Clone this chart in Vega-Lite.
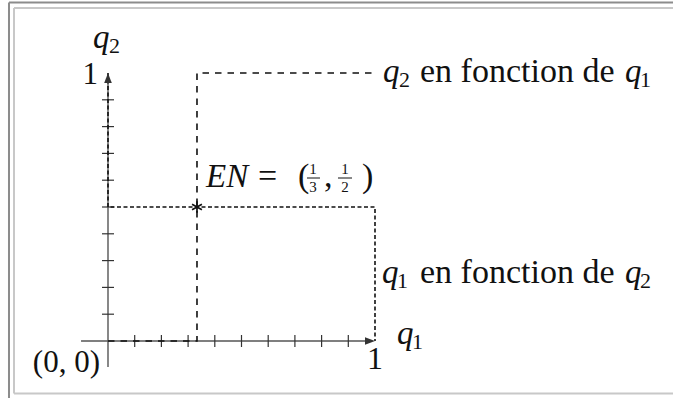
{
  "$schema": "https://vega.github.io/schema/vega-lite/v6.json",
  "width": 673,
  "height": 398,
  "autosize": {"type": "none"},
  "padding": 0,
  "background": "white",
  "config": {"view": {"stroke": null}},
  "datasets": {
    "frame": [
      {"k": "outer", "x": -0.3708, "x2": -0.3708, "y": 1.263, "y2": -0.3},
      {"k": "outer", "x": -0.3708, "x2": 2.3, "y": 1.263, "y2": 1.263},
      {"k": "inner", "x": -0.352, "x2": -0.352, "y": 1.2425, "y2": -0.1959},
      {"k": "inner", "x": -0.352, "x2": 2.3, "y": 1.2425, "y2": 1.2425},
      {"k": "inner", "x": -0.352, "x2": 2.3, "y": -0.1959, "y2": -0.1959}
    ],
    "axes": [
      {"x": -0.101, "x2": 0.97, "y": 0, "y2": 0},
      {"x": 0, "x2": 0, "y": -0.097, "y2": 0.97}
    ],
    "ticks": [
      {"x": 0.1, "x2": 0.1, "y": -0.0224, "y2": 0.0224},
      {"x": 0.2, "x2": 0.2, "y": -0.0224, "y2": 0.0224},
      {"x": 0.3, "x2": 0.3, "y": -0.0224, "y2": 0.0224},
      {"x": 0.4, "x2": 0.4, "y": -0.0224, "y2": 0.0224},
      {"x": 0.5, "x2": 0.5, "y": -0.0224, "y2": 0.0224},
      {"x": 0.6, "x2": 0.6, "y": -0.0224, "y2": 0.0224},
      {"x": 0.7, "x2": 0.7, "y": -0.0224, "y2": 0.0224},
      {"x": 0.8, "x2": 0.8, "y": -0.0224, "y2": 0.0224},
      {"x": 0.9, "x2": 0.9, "y": -0.0224, "y2": 0.0224},
      {"x": -0.0225, "x2": 0.0225, "y": 0.1, "y2": 0.1},
      {"x": -0.0225, "x2": 0.0225, "y": 0.2, "y2": 0.2},
      {"x": -0.0225, "x2": 0.0225, "y": 0.3, "y2": 0.3},
      {"x": -0.0225, "x2": 0.0225, "y": 0.4, "y2": 0.4},
      {"x": -0.0225, "x2": 0.0225, "y": 0.5, "y2": 0.5},
      {"x": -0.0225, "x2": 0.0225, "y": 0.6, "y2": 0.6},
      {"x": -0.0225, "x2": 0.0225, "y": 0.7, "y2": 0.7},
      {"x": -0.0225, "x2": 0.0225, "y": 0.8, "y2": 0.8},
      {"x": -0.0225, "x2": 0.0225, "y": 0.9, "y2": 0.9}
    ],
    "lines": [
      {"s": "q2 en fonction de q1", "o": 0, "x": 0, "y": 0},
      {"s": "q2 en fonction de q1", "o": 1, "x": 0.3333, "y": 0},
      {"s": "q2 en fonction de q1", "o": 2, "x": 0.3333, "y": 1},
      {"s": "q2 en fonction de q1", "o": 3, "x": 1, "y": 1},
      {"s": "q1 en fonction de q2", "o": 0, "x": 0, "y": 1},
      {"s": "q1 en fonction de q2", "o": 1, "x": 0, "y": 0.5},
      {"s": "q1 en fonction de q2", "o": 2, "x": 1, "y": 0.5},
      {"s": "q1 en fonction de q2", "o": 3, "x": 1, "y": 0}
    ],
    "arrows": [
      {"d": "right", "x": 1, "y": 0},
      {"d": "up", "x": 0, "y": 1}
    ],
    "ne": [
      {"x": 0.3333, "y": 0.5}
    ],
    "bars": [
      {"x": 0.7453, "x2": 0.794, "y": 0.6082, "y2": 0.6082},
      {"x": 0.8614, "x2": 0.9139, "y": 0.6082, "y2": 0.6082}
    ],
    "labels": [
      {"r": "it", "x": 1.03, "y": 0.9664, "t": "q"},
      {"r": "it", "x": 1.9363, "y": 0.9664, "t": "q"},
      {"r": "it", "x": 1.0262, "y": 0.2164, "t": "q"},
      {"r": "it", "x": 1.9363, "y": 0.2164, "t": "q"},
      {"r": "it", "x": 1.0824, "y": -0.0112, "t": "q"},
      {"r": "it", "x": -0.0562, "y": 1.0933, "t": "q"},
      {"r": "it", "x": 0.367, "y": 0.5746, "t": "EN"},
      {"r": "rm", "x": 1.1685, "y": 0.9664, "t": "en fonction de"},
      {"r": "rm", "x": 1.1685, "y": 0.2164, "t": "en fonction de"},
      {"r": "rm", "x": 0.5618, "y": 0.5746, "t": "="},
      {"r": "rm", "x": 0.7116, "y": 0.5746, "t": "("},
      {"r": "rm", "x": 0.809, "y": 0.5746, "t": ","},
      {"r": "rm", "x": 0.9513, "y": 0.5746, "t": ")"},
      {"r": "rmr", "x": -0.0375, "y": 0.959, "t": "1"},
      {"r": "rmr", "x": -0.03, "y": -0.1157, "t": "(0, 0)"},
      {"r": "rmc", "x": 1.0, "y": -0.1045, "t": "1"},
      {"r": "sub", "x": 1.0899, "y": 0.9478, "t": "2"},
      {"r": "sub", "x": 1.9925, "y": 0.9478, "t": "1"},
      {"r": "sub", "x": 1.0824, "y": 0.1978, "t": "1"},
      {"r": "sub", "x": 1.9925, "y": 0.1978, "t": "2"},
      {"r": "sub", "x": 1.1386, "y": -0.0299, "t": "1"},
      {"r": "sub", "x": 0.0037, "y": 1.0746, "t": "2"},
      {"r": "frac", "x": 0.7678, "y": 0.6231, "t": "1"},
      {"r": "frac", "x": 0.7678, "y": 0.556, "t": "3"},
      {"r": "frac", "x": 0.8876, "y": 0.6231, "t": "1"},
      {"r": "frac", "x": 0.8876, "y": 0.556, "t": "2"}
    ]
  },
  "encoding": {
    "x": {"field": "x", "type": "quantitative", "scale": {"domain": [-0.40449, 2.1161], "nice": false, "zero": false}, "axis": null},
    "y": {"field": "y", "type": "quantitative", "scale": {"domain": [-0.21269, 1.27239], "nice": false, "zero": false}, "axis": null}
  },
  "layer": [
    {
      "data": {"name": "frame"},
      "mark": {"type": "rule", "strokeWidth": 2},
      "encoding": {
        "x2": {"field": "x2"},
        "y2": {"field": "y2"},
        "color": {"field": "k", "type": "nominal", "scale": {"domain": ["outer", "inner"], "range": ["#8c8c8c", "#c8c8c8"]}, "legend": null}
      }
    },
    {
      "data": {"name": "axes"},
      "mark": {"type": "rule", "color": "#555555", "strokeWidth": 1.4},
      "encoding": {"x2": {"field": "x2"}, "y2": {"field": "y2"}}
    },
    {
      "data": {"name": "ticks"},
      "mark": {"type": "rule", "color": "#333333", "strokeWidth": 1.2},
      "encoding": {"x2": {"field": "x2"}, "y2": {"field": "y2"}}
    },
    {
      "data": {"name": "lines"},
      "mark": {"type": "line", "color": "#111111", "strokeWidth": 1.6, "strokeCap": "butt"},
      "encoding": {
        "order": {"field": "o", "type": "quantitative"},
        "strokeDash": {"field": "s", "type": "nominal", "scale": {"domain": ["q2 en fonction de q1", "q1 en fonction de q2"], "range": [[6.5, 6], [4, 2.5]]}, "legend": null}
      }
    },
    {
      "data": {"name": "arrows"},
      "mark": {"type": "point", "filled": true, "color": "#333333", "opacity": 1, "size": 400},
      "encoding": {
        "shape": {"field": "d", "type": "nominal", "scale": {"domain": ["right", "up"], "range": ["M0,0L-1,-0.38L-1,0.38Z", "M0,0L-0.38,1L0.38,1Z"]}, "legend": null}
      }
    },
    {
      "data": {"name": "ne"},
      "mark": {"type": "point", "filled": false, "color": "#111111", "strokeWidth": 1.7, "opacity": 1, "size": 130, "shape": "M0,-1L0,1M-0.866,-0.5L0.866,0.5M-0.866,0.5L0.866,-0.5"}
    },
    {
      "data": {"name": "bars"},
      "mark": {"type": "rule", "color": "#111111", "strokeWidth": 1},
      "encoding": {"x2": {"field": "x2"}, "y2": {"field": "y2"}}
    },
    {
      "data": {"name": "labels"},
      "transform": [{"filter": "datum.r === 'it'"}],
      "mark": {"type": "text", "font": "Liberation Serif", "fontStyle": "italic", "fontSize": 33, "align": "left", "baseline": "alphabetic", "color": "#111111"},
      "encoding": {"text": {"field": "t"}}
    },
    {
      "data": {"name": "labels"},
      "transform": [{"filter": "datum.r === 'rm'"}],
      "mark": {"type": "text", "font": "Liberation Serif", "fontSize": 34, "align": "left", "baseline": "alphabetic", "color": "#111111"},
      "encoding": {"text": {"field": "t"}}
    },
    {
      "data": {"name": "labels"},
      "transform": [{"filter": "datum.r === 'rmr'"}],
      "mark": {"type": "text", "font": "Liberation Serif", "fontSize": 31, "align": "right", "baseline": "alphabetic", "color": "#111111"},
      "encoding": {"text": {"field": "t"}}
    },
    {
      "data": {"name": "labels"},
      "transform": [{"filter": "datum.r === 'rmc'"}],
      "mark": {"type": "text", "font": "Liberation Serif", "fontSize": 32, "align": "center", "baseline": "alphabetic", "color": "#111111"},
      "encoding": {"text": {"field": "t"}}
    },
    {
      "data": {"name": "labels"},
      "transform": [{"filter": "datum.r === 'sub'"}],
      "mark": {"type": "text", "font": "Liberation Serif", "fontSize": 22, "align": "left", "baseline": "alphabetic", "color": "#111111"},
      "encoding": {"text": {"field": "t"}}
    },
    {
      "data": {"name": "labels"},
      "transform": [{"filter": "datum.r === 'frac'"}],
      "mark": {"type": "text", "font": "Liberation Serif", "fontSize": 15, "align": "center", "baseline": "alphabetic", "color": "#111111"},
      "encoding": {"text": {"field": "t"}}
    }
  ]
}
